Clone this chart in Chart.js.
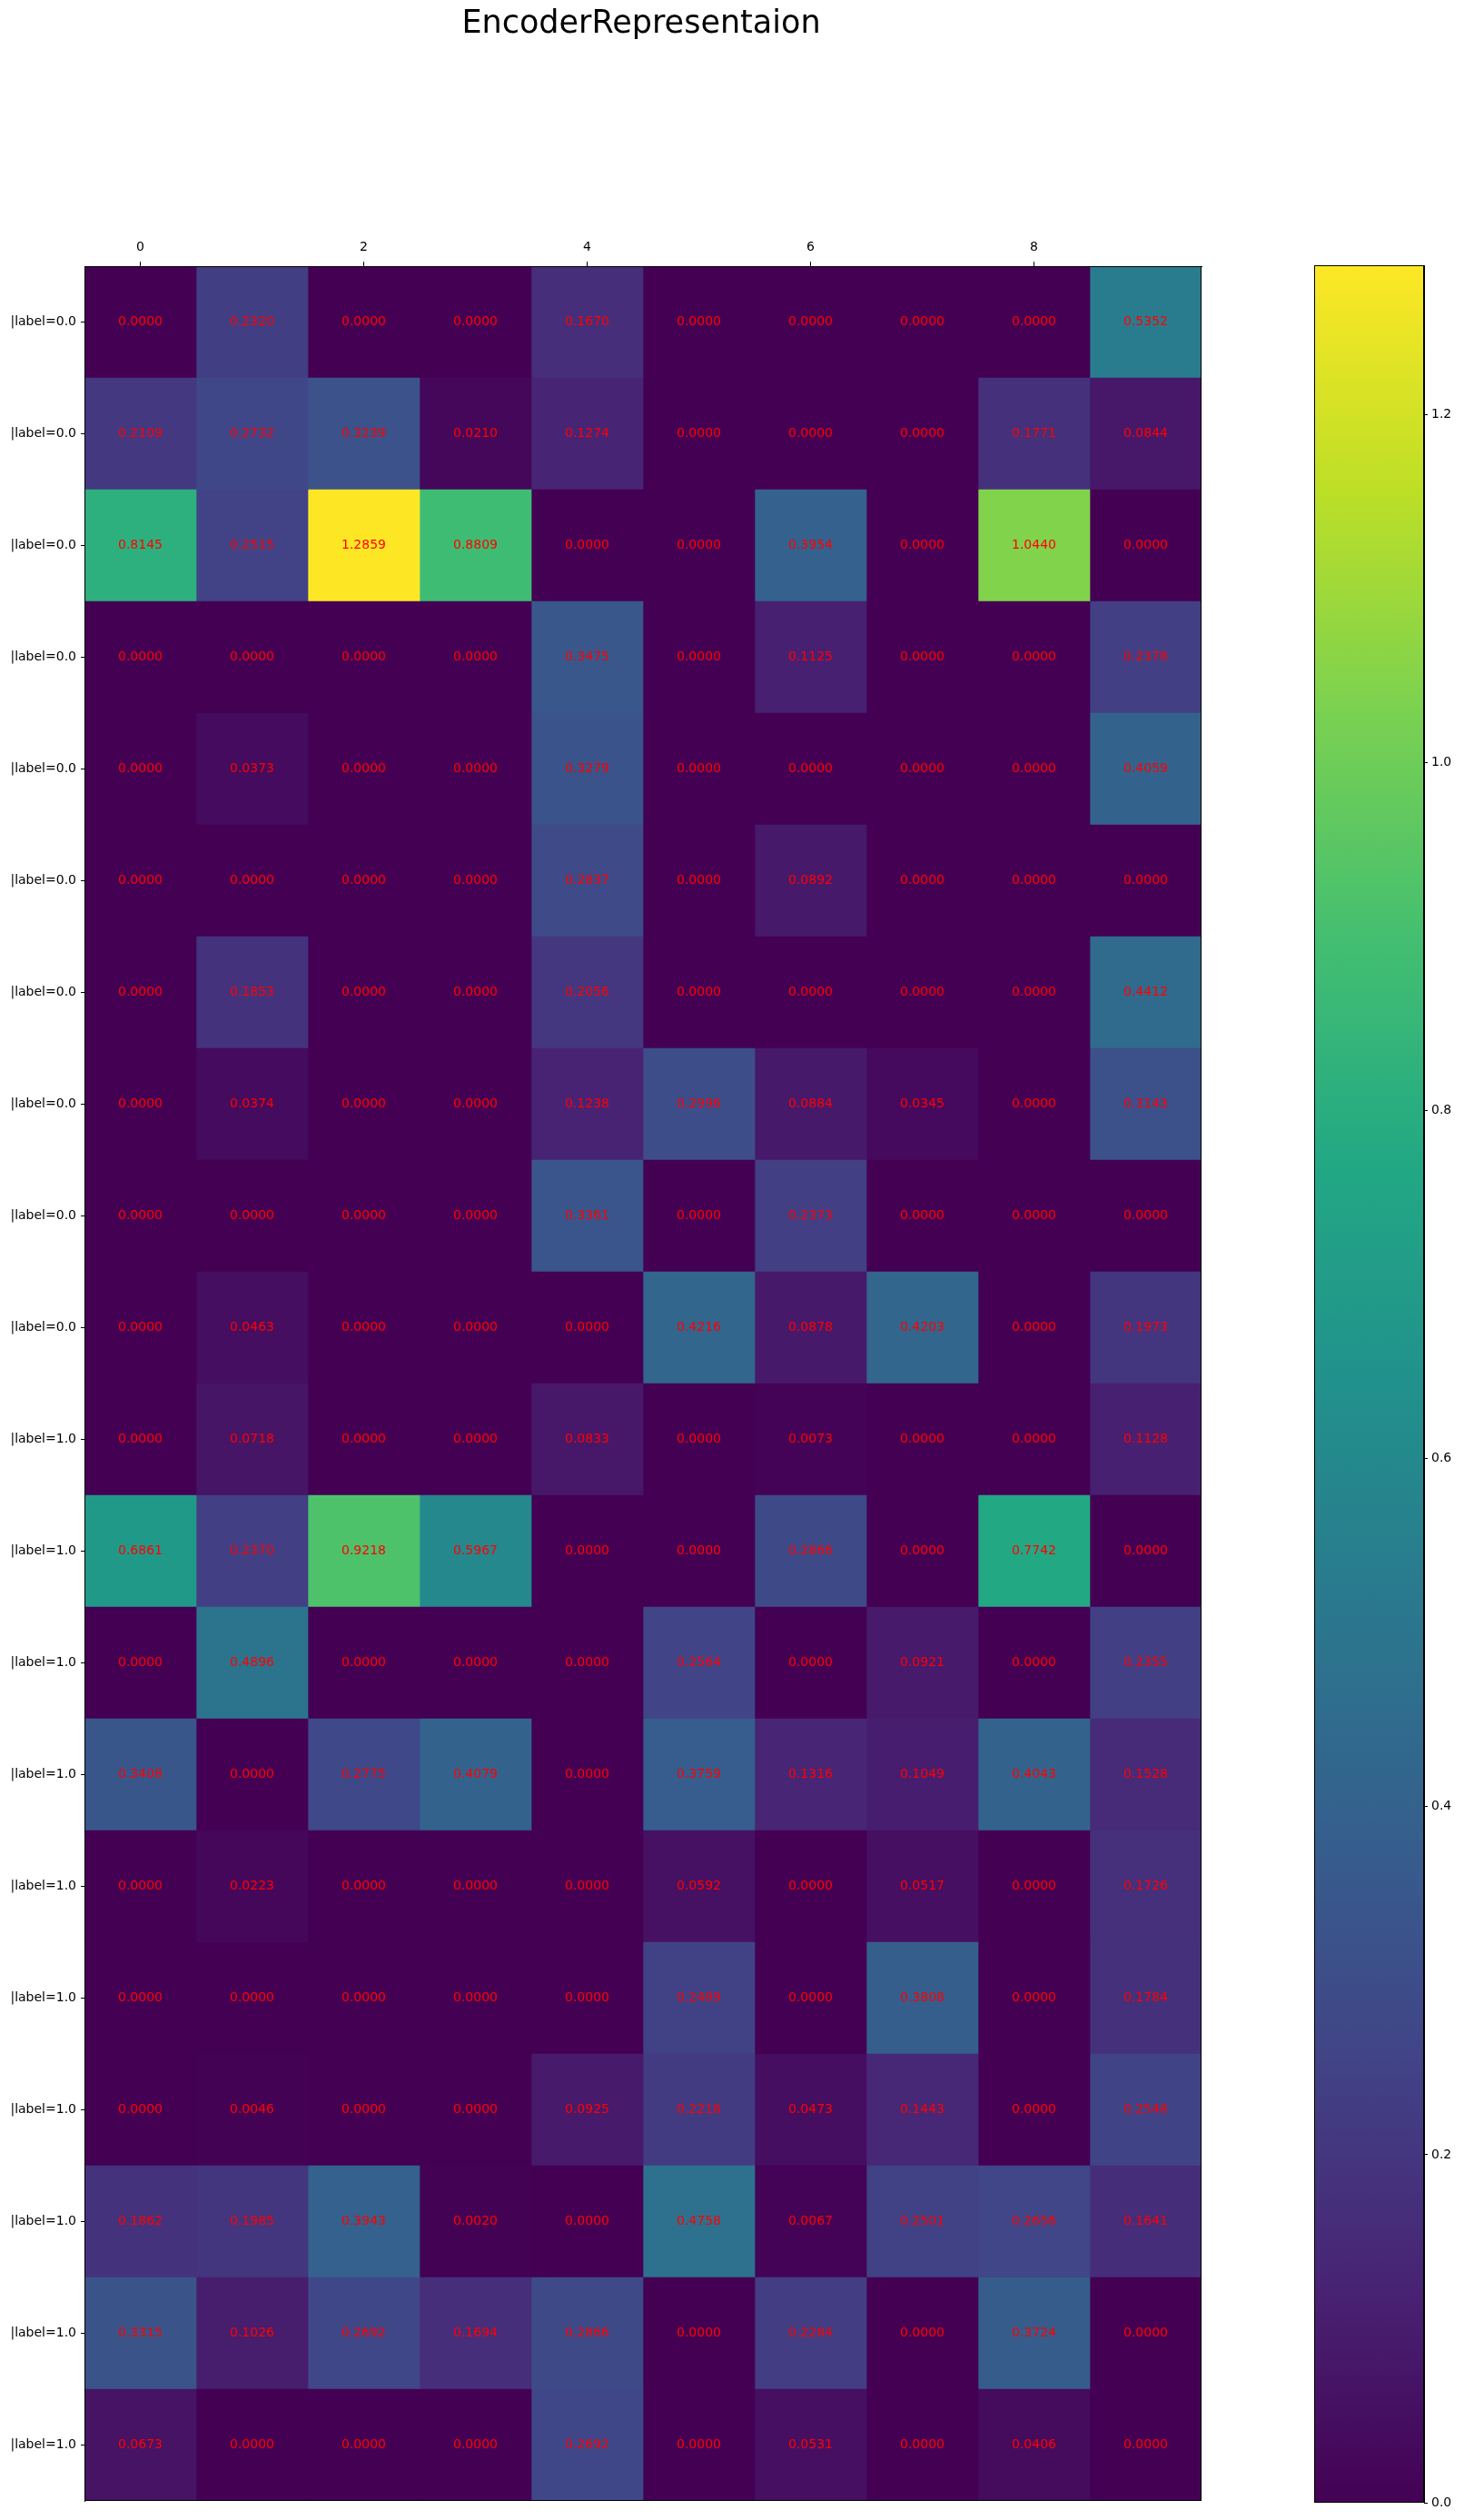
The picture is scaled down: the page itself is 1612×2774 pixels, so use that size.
<!DOCTYPE html>
<html>
<head>
<meta charset="utf-8">
<script src="https://cdn.jsdelivr.net/npm/chart.js@4.4.0/dist/chart.umd.min.js"></script>
<style>
body { margin: 0; background: #fff; }
#wrap { position: relative; width: 1612px; height: 2774px; }
canvas { position: absolute; top: 0; }
</style>
</head>
<body>
<div id="wrap">
<canvas id="heat" width="1412" height="2774" style="left:0"></canvas>
<canvas id="cbar" width="200" height="2774" style="left:1412px"></canvas>
</div>
<script>
var rowLabels = [
    "|label=0.0", "|label=0.0", "|label=0.0", "|label=0.0", "|label=0.0",
    "|label=0.0", "|label=0.0", "|label=0.0", "|label=0.0", "|label=0.0",
    "|label=1.0", "|label=1.0", "|label=1.0", "|label=1.0", "|label=1.0",
    "|label=1.0", "|label=1.0", "|label=1.0", "|label=1.0", "|label=1.0",
];
var columns = [0, 1, 2, 3, 4, 5, 6, 7, 8, 9];
var xTickLabels = [0, 2, 4, 6, 8];
var colorTicks = [0.0, 0.2, 0.4, 0.6, 0.8, 1.0, 1.2];
var values = [
    [0.0000, 0.2320, 0.0000, 0.0000, 0.1670, 0.0000, 0.0000, 0.0000, 0.0000, 0.5352],
    [0.2109, 0.2732, 0.3239, 0.0210, 0.1274, 0.0000, 0.0000, 0.0000, 0.1771, 0.0844],
    [0.8145, 0.2515, 1.2859, 0.8809, 0.0000, 0.0000, 0.3954, 0.0000, 1.0440, 0.0000],
    [0.0000, 0.0000, 0.0000, 0.0000, 0.3475, 0.0000, 0.1125, 0.0000, 0.0000, 0.2378],
    [0.0000, 0.0373, 0.0000, 0.0000, 0.3279, 0.0000, 0.0000, 0.0000, 0.0000, 0.4059],
    [0.0000, 0.0000, 0.0000, 0.0000, 0.2837, 0.0000, 0.0892, 0.0000, 0.0000, 0.0000],
    [0.0000, 0.1853, 0.0000, 0.0000, 0.2056, 0.0000, 0.0000, 0.0000, 0.0000, 0.4412],
    [0.0000, 0.0374, 0.0000, 0.0000, 0.1238, 0.2996, 0.0884, 0.0345, 0.0000, 0.3143],
    [0.0000, 0.0000, 0.0000, 0.0000, 0.3361, 0.0000, 0.2373, 0.0000, 0.0000, 0.0000],
    [0.0000, 0.0463, 0.0000, 0.0000, 0.0000, 0.4216, 0.0878, 0.4203, 0.0000, 0.1973],
    [0.0000, 0.0718, 0.0000, 0.0000, 0.0833, 0.0000, 0.0073, 0.0000, 0.0000, 0.1128],
    [0.6861, 0.2370, 0.9218, 0.5967, 0.0000, 0.0000, 0.2866, 0.0000, 0.7742, 0.0000],
    [0.0000, 0.4896, 0.0000, 0.0000, 0.0000, 0.2564, 0.0000, 0.0921, 0.0000, 0.2355],
    [0.3408, 0.0000, 0.2775, 0.4079, 0.0000, 0.3759, 0.1316, 0.1049, 0.4043, 0.1528],
    [0.0000, 0.0223, 0.0000, 0.0000, 0.0000, 0.0592, 0.0000, 0.0517, 0.0000, 0.1726],
    [0.0000, 0.0000, 0.0000, 0.0000, 0.0000, 0.2489, 0.0000, 0.3808, 0.0000, 0.1784],
    [0.0000, 0.0046, 0.0000, 0.0000, 0.0925, 0.2218, 0.0473, 0.1443, 0.0000, 0.2548],
    [0.1862, 0.1985, 0.3943, 0.0020, 0.0000, 0.4758, 0.0067, 0.2501, 0.2656, 0.1641],
    [0.3315, 0.1026, 0.2692, 0.1694, 0.2866, 0.0000, 0.2284, 0.0000, 0.3724, 0.0000],
    [0.0673, 0.0000, 0.0000, 0.0000, 0.2692, 0.0000, 0.0531, 0.0000, 0.0406, 0.0000],
];
var vmin = 0;
var vmax = 1.2859;

// viridis sampled every 0.1
var viridis = ['#440154', '#482475', '#414487', '#355f8d', '#2a788e', '#21918c',
               '#22a884', '#44bf70', '#7ad151', '#bddf26', '#fde725'];

function hexRgb(h) {
    return [parseInt(h.substr(1, 2), 16), parseInt(h.substr(3, 2), 16), parseInt(h.substr(5, 2), 16)];
}
function viridisColor(t) {
    t = Math.max(0, Math.min(1, t));
    var p = t * (viridis.length - 1);
    var i = Math.min(Math.floor(p), viridis.length - 2);
    var f = p - i;
    var a = hexRgb(viridis[i]), b = hexRgb(viridis[i + 1]);
    var c = a.map(function (v, k) { return Math.round(v + (b[k] - v) * f); });
    return 'rgb(' + c.join(',') + ')';
}

Chart.defaults.font.family = 'DejaVu Sans';
Chart.defaults.font.size = 14;
Chart.defaults.color = '#000';
Chart.defaults.animation = false;

var frame = {
    id: 'frame',
    afterDraw: function (chart) {
        var a = chart.chartArea, ctx = chart.ctx;
        ctx.save();
        ctx.strokeStyle = '#000';
        ctx.lineWidth = 1;
        ctx.strokeRect(a.left + 0.5, a.top + 0.5, a.right - a.left - 1, a.bottom - a.top - 1);
        ctx.restore();
    }
};

var cellText = {
    id: 'cellText',
    afterDatasetsDraw: function (chart) {
        var ctx = chart.ctx;
        ctx.save();
        ctx.fillStyle = '#ff0000';
        ctx.font = '14px "DejaVu Sans"';
        ctx.textAlign = 'center';
        ctx.textBaseline = 'middle';
        chart.data.datasets.forEach(function (ds, c) {
            chart.getDatasetMeta(c).data.forEach(function (el, r) {
                var p = el.getCenterPoint();
                ctx.fillText(values[r][c].toFixed(4), p.x, p.y);
            });
        });
        ctx.restore();
    }
};

var heat = new Chart(document.getElementById('heat').getContext('2d'), {
    type: 'bar',
    data: {
        labels: rowLabels,
        datasets: columns.map(function (c) {
            return {
                label: 'col ' + c,
                data: values.map(function () { return [c, c + 1]; }),
                backgroundColor: values.map(function (r) { return viridisColor((r[c] - vmin) / (vmax - vmin)); }),
                borderWidth: 0,
                borderSkipped: false,
                barPercentage: 1,
                categoryPercentage: 1,
                grouped: false
            };
        })
    },
    options: {
        indexAxis: 'y',
        responsive: false,
        layout: { padding: { top: 0, left: 0, right: 0, bottom: 21 } },
        plugins: {
            legend: { display: false },
            tooltip: { enabled: false },
            title: {
                display: true,
                text: 'EncoderRepresentaion',
                font: { size: 35, weight: 'normal' },
                color: '#000',
                padding: { top: 6, bottom: 205 }
            }
        },
        scales: {
            x: {
                type: 'linear',
                position: 'top',
                min: 0,
                max: 10,
                afterFit: function (s) { s.height = 40; },
                afterBuildTicks: function (s) {
                    s.ticks = xTickLabels.map(function (v) { return { value: v + 0.5 }; });
                },
                ticks: {
                    padding: 7,
                    callback: function (v) { return String(v - 0.5); }
                },
                grid: { drawOnChartArea: false, tickLength: 5, color: '#000' },
                border: { display: true, color: '#000' }
            },
            y: {
                type: 'category',
                afterFit: function (s) { s.width = 93; },
                ticks: { padding: 5 },
                grid: { drawOnChartArea: false, offset: false, tickLength: 4, color: '#000' },
                border: { display: true, color: '#000' }
            },
            // empty spacer on the right so the title centres on the figure
            yRight: {
                type: 'category',
                position: 'right',
                afterFit: function (s) { s.width = 89; },
                ticks: { display: false },
                grid: { display: false },
                border: { display: false }
            }
        }
    },
    plugins: [cellText, frame]
});

var cbar = new Chart(document.getElementById('cbar').getContext('2d'), {
    type: 'bar',
    data: {
        labels: [''],
        datasets: [{
            data: [[vmin, vmax]],
            barPercentage: 1,
            categoryPercentage: 1,
            borderSkipped: false,
            backgroundColor: function (context) {
                var a = context.chart.chartArea;
                if (!a) return null;
                var g = context.chart.ctx.createLinearGradient(0, a.bottom, 0, a.top);
                viridis.forEach(function (col, i) { g.addColorStop(i / (viridis.length - 1), col); });
                return g;
            }
        }]
    },
    options: {
        responsive: false,
        layout: { padding: { top: 292, left: 35, right: 0, bottom: 19 } },
        plugins: { legend: { display: false }, tooltip: { enabled: false } },
        scales: {
            x: { display: false },
            y: {
                position: 'right',
                min: vmin,
                max: vmax,
                afterFit: function (s) { s.width = 44; },
                afterBuildTicks: function (s) {
                    s.ticks = colorTicks.map(function (v) { return { value: v }; });
                },
                ticks: {
                    padding: 4,
                    callback: function (v) { return v.toFixed(1); }
                },
                grid: { drawOnChartArea: false, tickLength: 4, color: '#000' },
                border: { display: true, color: '#000' }
            }
        }
    },
    plugins: [frame]
});
</script>
</body>
</html>
